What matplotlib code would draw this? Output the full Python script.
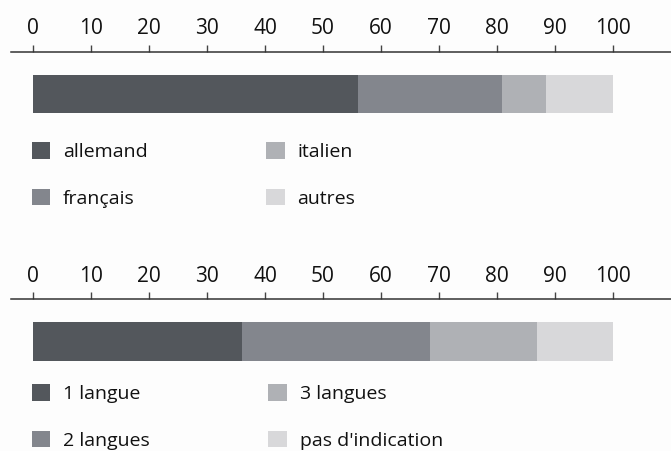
import matplotlib
matplotlib.use("Agg")
import matplotlib.pyplot as plt

# ----------------------------------------------------
# Data (in %)
# ----------------------------------------------------
lang_labels = ["allemand", "français", "italien", "autres"]
lang_values = [56, 25, 7.5, 11.5]

count_labels = ["1 langue", "2 langues", "3 langues", "pas d'indication"]
count_values = [36, 32.5, 18.5, 13]

ticks = [0, 10, 20, 30, 40, 50, 60, 70, 80, 90, 100]
colors = ["#53575c", "#83868d", "#afb1b5", "#d8d8da"]

plt.rcParams["font.family"] = ["Open Sans", "DejaVu Sans"]
plt.rcParams["font.weight"] = 500

W, H = 671, 451
fig = plt.figure(figsize=(W / 100, H / 100), dpi=100)
fig.patch.set_facecolor("#fdfdfd")


def px_axes(top, bottom):
    # axes spanning from the axis line (top) to the bar bottom, in pixels
    return fig.add_axes([11 / W, 1 - bottom / H, 660 / W, (bottom - top) / H])


def draw_chart(ax, values, labels, bar_frac, legend_top):
    left = 0
    handles = []
    for v, lab, c in zip(values, labels, colors):
        b = ax.barh(bar_frac / 2, v, left=left, height=bar_frac, color=c,
                    label=lab, linewidth=0)
        handles.append(b)
        left += v
    ax.set_xlim(-3.87, 110.1)
    ax.set_ylim(0, 1)
    ax.set_facecolor("none")
    ax.xaxis.tick_top()
    ax.set_xticks(ticks)
    ax.tick_params(axis="x", direction="out", length=5, width=1.0,
                   color="#444444", pad=4, labelsize=15, labelcolor="#111111")
    ax.set_yticks([])
    for side in ["left", "right", "bottom"]:
        ax.spines[side].set_visible(False)
    ax.spines["top"].set_color("#333333")
    ax.spines["top"].set_linewidth(1.1)

    fig.legend(handles=handles, labels=labels, ncol=2,
               loc="upper left", bbox_to_anchor=(32 / W, 1 - legend_top / H),
               frameon=False, fontsize=14, handlelength=0.95, handleheight=0.95,
               handletextpad=0.65, labelspacing=1.42, columnspacing=6.1,
               borderpad=0, borderaxespad=0, labelcolor="#111111")


ax1 = px_axes(52, 113)
draw_chart(ax1, lang_values, lang_labels, 38 / 61, 142)

ax2 = px_axes(299, 361)
draw_chart(ax2, count_values, count_labels, 39 / 62, 384)

fig.savefig("out.png", dpi=100, facecolor=fig.get_facecolor())
